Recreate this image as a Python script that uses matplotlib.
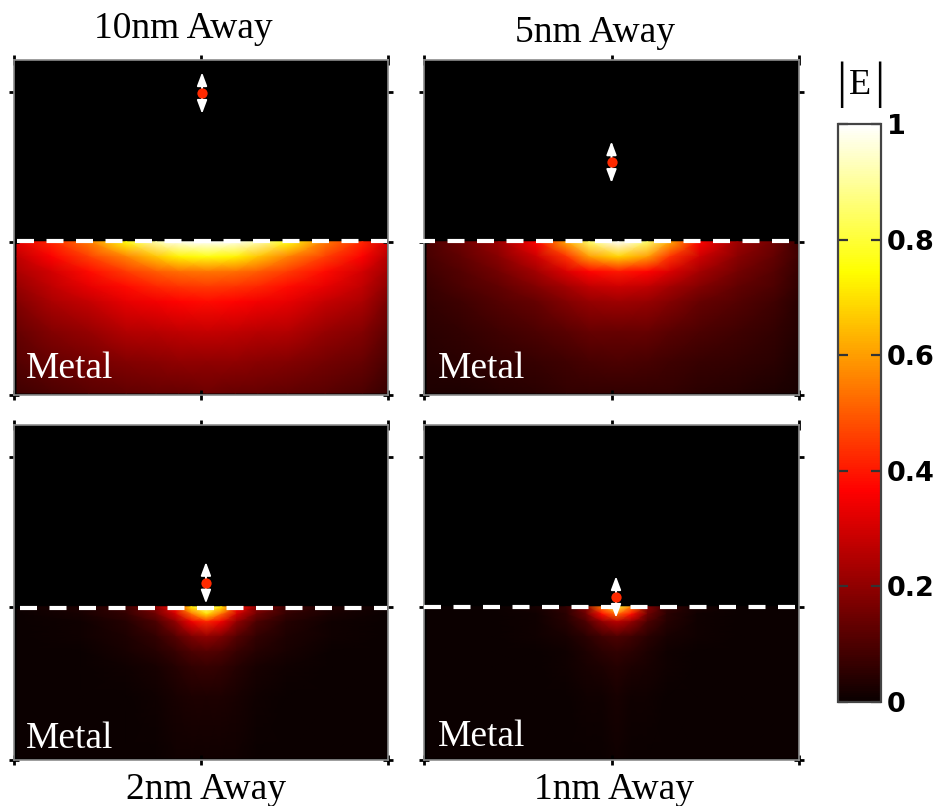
"""Field magnitude |E| under a dipole at four distances from a metal surface."""
import numpy as np
import matplotlib
matplotlib.use('Agg')
import matplotlib.pyplot as plt

W, H = 938, 806
X_MIN, X_MAX = -12.5, 12.5
Y_MIN, Y_MAX = -10.2, 12.1

titles = ['10nm Away', '5nm Away', '2nm Away', '1nm Away']
cbar_ticks = [0, 0.2, 0.4, 0.6, 0.8, 1]
cbar_labels = ['0', '0.2', '0.4', '0.6', '0.8', '1']

# dipole position in nm above the surface
dipole_x = [0.07, 0.0, 0.33, 0.3]
dipole_y = [9.9, 5.3, 1.6, 0.65]
arrow_half = 1.38

# field samples in the metal
x_wide_a = [-12.3, -10, -7.5, -5, -3, -1.5, 0.4, 2.3, 3.8, 5.8, 8.3, 10.8, 12.4]
x_wide_b = [-12.3, -10, -7.5, -5, -3, -1.5, 0.45, 2.4, 3.9, 5.9, 8.4, 10.9, 12.4]
x_near = [-12.3, -8, -5, -3, -1.7, -0.65, 0.35, 1.35, 2.4, 3.7, 5.7, 8.7, 12.4]
y_far = [0, -1, -2, -3, -4, -6, -8, -10.07]
y_near = [0, -0.5, -1, -2, -3, -4, -6, -10.07]

field_10nm = [
    [.33, .42, .55, .76, .92, .98, 1.0, .98, .92, .76, .55, .42, .31],
    [.27, .36, .46, .56, .66, .73, .76, .73, .66, .56, .46, .36, .26],
    [.24, .30, .38, .45, .50, .53, .54, .53, .50, .45, .38, .30, .23],
    [.21, .27, .33, .38, .42, .44, .45, .44, .42, .38, .33, .27, .20],
    [.18, .24, .28, .33, .35, .37, .38, .37, .35, .33, .28, .24, .17],
    [.14, .18, .21, .25, .26, .27, .28, .27, .26, .25, .21, .18, .13],
    [.11, .14, .16, .18, .19, .20, .20, .20, .19, .18, .16, .14, .10],
    [.08, .10, .12, .13, .14, .14, .15, .14, .14, .13, .12, .10, .07],
]
field_5nm = [
    [.10, .15, .22, .37, .62, .85, 1.0, .85, .62, .37, .22, .15, .08],
    [.09, .13, .19, .29, .44, .60, .68, .60, .44, .29, .19, .13, .08],
    [.08, .11, .16, .23, .31, .37, .40, .37, .31, .23, .16, .11, .07],
    [.07, .10, .13, .18, .23, .27, .29, .27, .23, .18, .13, .10, .06],
    [.06, .08, .11, .14, .18, .21, .22, .21, .18, .14, .11, .08, .05],
    [.05, .06, .08, .10, .12, .14, .14, .14, .12, .10, .08, .06, .04],
    [.04, .05, .06, .07, .08, .09, .10, .09, .08, .07, .06, .05, .03],
    [.03, .03, .04, .05, .06, .06, .06, .06, .06, .05, .04, .03, .02],
]
field_2nm = [
    [.01, .03, .08, .20, .38, .72, .88, .72, .38, .20, .08, .03, .01],
    [.00, .02, .06, .15, .30, .52, .70, .52, .30, .15, .06, .02, .00],
    [.00, .01, .04, .10, .20, .34, .42, .34, .20, .10, .04, .01, .00],
    [.00, .01, .03, .06, .11, .17, .20, .17, .11, .06, .03, .01, .00],
    [.00, .00, .02, .04, .07, .10, .11, .10, .07, .04, .02, .00, .00],
    [.00, .00, .01, .02, .04, .06, .07, .06, .04, .02, .01, .00, .00],
    [.00, .00, .00, .01, .02, .03, .03, .03, .02, .01, .00, .00, .00],
    [.00, .00, .00, .00, .01, .01, .01, .01, .01, .00, .00, .00, .00],
]
field_1nm = [
    [.00, .00, .02, .06, .18, .55, .80, .55, .18, .06, .02, .00, .00],
    [.00, .00, .01, .05, .15, .38, .52, .38, .15, .05, .01, .00, .00],
    [.00, .00, .01, .04, .10, .20, .26, .20, .10, .04, .01, .00, .00],
    [.00, .00, .01, .02, .05, .08, .10, .08, .05, .02, .01, .00, .00],
    [.00, .00, .00, .01, .03, .05, .06, .05, .03, .01, .00, .00, .00],
    [.00, .00, .00, .01, .02, .03, .04, .03, .02, .01, .00, .00, .00],
    [.00, .00, .00, .00, .01, .01, .02, .01, .01, .00, .00, .00, .00],
    [.00, .00, .00, .00, .00, .00, .01, .00, .00, .00, .00, .00, .00],
]
fields = [field_10nm, field_5nm, field_2nm, field_1nm]
grids = [(x_wide_a, y_far), (x_wide_b, y_far), (x_near, y_near), (x_near, y_near)]


def box(x0, y0, x1, y1):
    return [x0 / W, 1 - y1 / H, (x1 - x0) / W, (y1 - y0) / H]


def label(px, py, s, **kw):
    return fig.text(px / W, 1 - py / H, s, **kw)


serif = dict(family='Liberation Serif', fontsize=27)
fig = plt.figure(figsize=(W / 100, H / 100), dpi=100)

boxes = [box(14, 60, 388, 395), box(424, 60, 799, 395),
         box(14, 425, 388, 760), box(424, 425, 799, 760)]
dash_start = [-12.3, -12.9, -12.1, -12.5]
dash_y = [0.07, 0.07, -0.05, 0.0]
for i, rect in enumerate(boxes):
    ax = fig.add_axes(rect, facecolor='black')
    xs, ys = grids[i]
    X, Y = np.meshgrid(xs, ys)
    mesh = ax.pcolormesh(X, Y, np.array(fields[i]), cmap='hot', vmin=0, vmax=1,
                         shading='gouraud', rasterized=True)
    ax.set_xlim(X_MIN, X_MAX)
    ax.set_ylim(Y_MIN, Y_MAX)
    ax.set_xticks([X_MIN, 0, X_MAX])
    ax.set_yticks([Y_MIN, 0, 10])
    ax.tick_params(direction='inout', length=6.5, width=2, color='black',
                   top=True, right=True, labelbottom=False, labelleft=False)
    for sp in ax.spines.values():
        sp.set_color('#8c8c8c')
        sp.set_linewidth(1.2)

    # surface line
    ax.plot([dash_start[i], X_MAX - 0.05], [dash_y[i], dash_y[i]], color='white', lw=3,
            ls=(0, (4.08, 3.0)), dash_capstyle='butt', clip_on=False, zorder=4)

    # dipole
    dx, dy = dipole_x[i], dipole_y[i]
    ax.annotate('', xy=(dx, dy + arrow_half), xytext=(dx, dy - arrow_half),
                arrowprops=dict(arrowstyle='<|-|>,head_length=0.8,head_width=0.3',
                                color='white', lw=1.4, shrinkA=0, shrinkB=0),
                zorder=5)
    ax.plot([dx], [dy], 'o', color='#ff2a00', ms=7.4, mew=0, zorder=6)

label(26, 378, 'Metal', color='white', ha='left', va='baseline', **serif)
label(438, 378, 'Metal', color='white', ha='left', va='baseline', **serif)
label(26, 748, 'Metal', color='white', ha='left', va='baseline', **serif)
label(438, 746, 'Metal', color='white', ha='left', va='baseline', **serif)

label(183, 29, titles[0], ha='center', va='center', **serif)
label(595, 33, titles[1], ha='center', va='center', **serif)
label(206, 790, titles[2], ha='center', va='center', **serif)
label(614, 790, titles[3], ha='center', va='center', **serif)

label(860, 86, 'E', ha='center', va='center', family='Liberation Serif', fontsize=26)
label(841, 85, '|', ha='center', va='center', family='Liberation Serif', fontsize=37)
label(879, 85, '|', ha='center', va='center', family='Liberation Serif', fontsize=37)

cax = fig.add_axes(box(838, 124, 881, 702))
cb = fig.colorbar(mesh, cax=cax)
cb.set_ticks(cbar_ticks, labels=cbar_labels)
cax.tick_params(axis='y', direction='in', length=7, width=1.6, color='#333333', pad=4,
                left=True, right=True, labelsize=19.5)
for t in cax.get_yticklabels():
    t.set_fontweight('bold')
cb.outline.set_edgecolor('#444444')
cb.outline.set_linewidth(1.6)

plt.savefig('out.png', dpi=100)
print('saved out.png')
